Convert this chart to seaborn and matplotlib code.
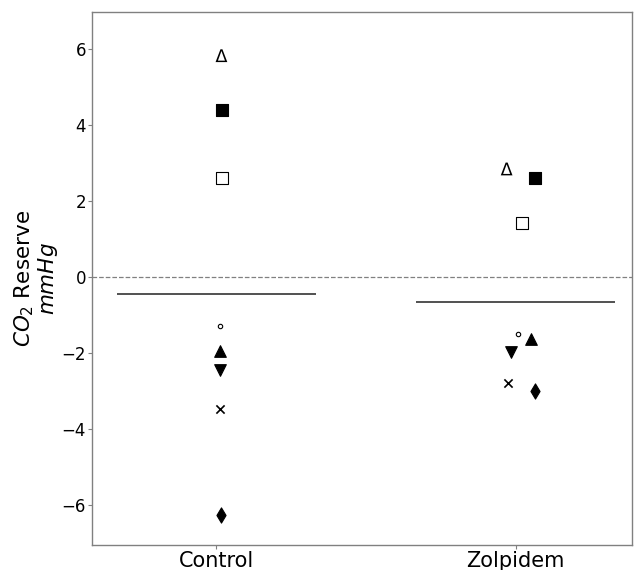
import matplotlib
matplotlib.use("Agg")
import matplotlib.pyplot as plt
import numpy as np
import pandas as pd
import seaborn as sns

# groups on the x axis
groups = ["Control", "Zolpidem"]

# one value per subject and group (mmHg)
subjects = ["s1", "s2", "s3", "s4", "s5", "s6", "s7", "s8"]
control_values = [5.82, 4.38, 2.61, -1.28, -1.95, -2.45, -3.47, -6.26]
zolpidem_values = [2.84, 2.61, 1.41, -1.50, -1.62, -1.97, -2.79, -3.00]

# small horizontal offsets of the points around each group
control_offsets = [0.017, 0.020, 0.020, 0.013, 0.013, 0.013, 0.013, 0.017]
zolpidem_offsets = [-0.030, 0.064, 0.020, 0.007, 0.050, -0.017, -0.027, 0.064]

# group mean lines
group_means = [-0.45, -0.65]

# marker style per subject: (marker, filled, size)
subject_styles = {
    "s1": (r"$\Delta$", True, 85),
    "s2": ("s", True, 70),
    "s3": ("s", False, 70),
    "s4": ("o", False, 10),
    "s5": ("^", True, 70),
    "s6": ("v", True, 70),
    "s7": ("x", True, 35),
    "s8": ("d", True, 60),
}

rows = []
for gi, (vals, offs) in enumerate([(control_values, control_offsets),
                                   (zolpidem_values, zolpidem_offsets)]):
    for subj, v, o in zip(subjects, vals, offs):
        rows.append({"subject": subj, "group": groups[gi], "x": gi + o, "value": v})
df = pd.DataFrame(rows)

sns.set_style("white")
fig = plt.figure(figsize=(6.4, 5.7), dpi=100)
ax = fig.add_axes([0.144, 0.044, 0.844, 0.935])

for subj in subjects:
    marker, filled, size = subject_styles[subj]
    sub = df[df["subject"] == subj]
    if marker.startswith("$"):
        sns.scatterplot(data=sub, x="x", y="value", marker=marker, s=size,
                        facecolor="black", edgecolor="none", linewidth=0,
                        ax=ax, legend=False)
    elif marker == "x":
        sns.scatterplot(data=sub, x="x", y="value", marker=marker, s=size,
                        color="black", linewidth=1.2, ax=ax, legend=False)
    else:
        sns.scatterplot(data=sub, x="x", y="value", marker=marker, s=size,
                        facecolor="black" if filled else "white",
                        edgecolor="black", linewidth=0.8, ax=ax, legend=False)

for gi, m in enumerate(group_means):
    ax.hlines(m, gi - 1 / 3, gi + 1 / 3, color="#333333", linewidth=1.2)

ax.axhline(0, color="gray", linestyle="--", linewidth=0.9)

ax.set_xlim(-0.415, 1.39)
ax.set_ylim(-7.05, 6.97)
ax.set_xticks([0, 1])
ax.set_xticklabels(groups, fontsize=15)
ax.set_yticks([-6, -4, -2, 0, 2, 4, 6])
ax.tick_params(axis="y", labelsize=12)
ax.tick_params(axis="both", length=3, color="gray", direction="out",
               bottom=True, left=True, labelcolor="black", pad=1.5)
ax.set_xlabel("")
ax.set_ylabel("$CO_2$ Reserve\n$mmHg$", fontsize=15.5, labelpad=1,
              color="black", linespacing=1.0)
for s in ax.spines.values():
    s.set_color("gray")
    s.set_linewidth(1.0)

fig.savefig("out.png", dpi=100)
